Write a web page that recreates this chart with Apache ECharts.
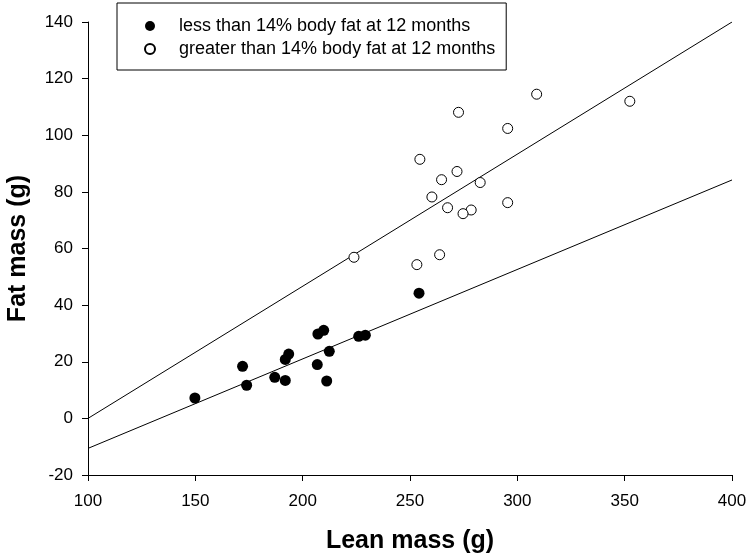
<!DOCTYPE html>
<html><head><meta charset="utf-8">
<script src="https://cdn.jsdelivr.net/npm/echarts@6/dist/echarts.min.js"></script>
<style>html,body{margin:0;padding:0;background:#fff}#c{width:750px;height:558px}</style>
</head><body><div id="c"></div>
<script>
const lessLean = [149.8, 172.0, 173.9, 187.0, 191.9, 191.9, 193.5, 206.8, 207.1, 209.8, 212.4, 211.2, 226.1, 229.2, 254.2];
const lessFat  = [7.2, 18.4, 11.7, 14.5, 13.4, 20.8, 22.7, 19.0, 29.8, 31.1, 23.7, 13.2, 29.0, 29.4, 44.2];
const greaterLean = [309.0, 272.6, 295.5, 254.6, 271.9, 264.7, 282.7, 260.2, 267.5, 278.5, 274.7, 295.5, 263.8, 253.2, 352.4, 223.9];
const greaterFat  = [114.5, 108.1, 102.4, 91.5, 87.2, 84.3, 83.3, 78.2, 74.4, 73.6, 72.3, 76.2, 57.8, 54.3, 112.0, 56.9];
const fitLessX = [100, 400], fitLessY = [-10.6, 84.2];
const fitGreaterX = [100, 400], fitGreaterY = [0, 140];
const seriesNames = ['less than 14% body fat at 12 months', 'greater than 14% body fat at 12 months'];
const xTitle = 'Lean mass (g)', yTitle = 'Fat mass (g)';

const zip = (a, b) => a.map((v, i) => [v, b[i]]);
const font = 'Arial, "Liberation Sans", sans-serif';
const chart = echarts.init(document.getElementById('c'));
chart.setOption({
  animation: false,
  backgroundColor: '#fff',
  grid: { left: 88, right: 18, top: 22, bottom: 83, containLabel: false, outerBoundsMode: 'none' },
  legend: {
    data: seriesNames,
    orient: 'vertical', left: 117, top: 3,
    padding: [14, 11, 12, 27],
    borderColor: '#000', borderWidth: 1,
    itemWidth: 10, itemHeight: 10, itemGap: 5,
    textStyle: { fontFamily: font, fontSize: 18, color: '#000', padding: [0, 0, 0, 19] }
  },
  xAxis: {
    type: 'value', min: 100, max: 400, interval: 50,
    name: xTitle, nameLocation: 'middle', nameGap: 54,
    nameTextStyle: { fontFamily: font, fontSize: 25, fontWeight: 'bold', color: '#000' },
    axisLine: { onZero: false, lineStyle: { color: '#000', width: 1 } },
    axisTick: { length: 6, lineStyle: { color: '#000' } },
    axisLabel: { fontFamily: font, fontSize: 17, color: '#000', margin: 18 },
    splitLine: { show: false }
  },
  yAxis: {
    type: 'value', min: -20, max: 140, interval: 20,
    name: yTitle, nameLocation: 'middle', nameGap: 57,
    nameTextStyle: { fontFamily: font, fontSize: 25, fontWeight: 'bold', color: '#000' },
    axisLine: { show: true, onZero: false, lineStyle: { color: '#000', width: 1 } },
    axisTick: { show: true, length: 6, lineStyle: { color: '#000' } },
    axisLabel: { fontFamily: font, fontSize: 17, color: '#000', margin: 15 },
    splitLine: { show: false }
  },
  series: [
    { type: 'line', data: zip(fitLessX, fitLessY), symbol: 'none', silent: true,
      lineStyle: { color: '#000', width: 1 }, z: 1 },
    { type: 'line', data: zip(fitGreaterX, fitGreaterY), symbol: 'none', silent: true,
      lineStyle: { color: '#000', width: 1 }, z: 1 },
    { name: seriesNames[0], type: 'scatter', data: zip(lessLean, lessFat), symbol: 'circle', symbolSize: 11,
      itemStyle: { color: '#000', borderColor: '#000', borderWidth: 0, opacity: 1 }, z: 3 },
    { name: seriesNames[1], type: 'scatter', data: zip(greaterLean, greaterFat), symbol: 'circle', symbolSize: 10,
      itemStyle: { color: '#fff', borderColor: '#000', borderWidth: 1, opacity: 1 }, z: 3 }
  ]
});
</script></body></html>
